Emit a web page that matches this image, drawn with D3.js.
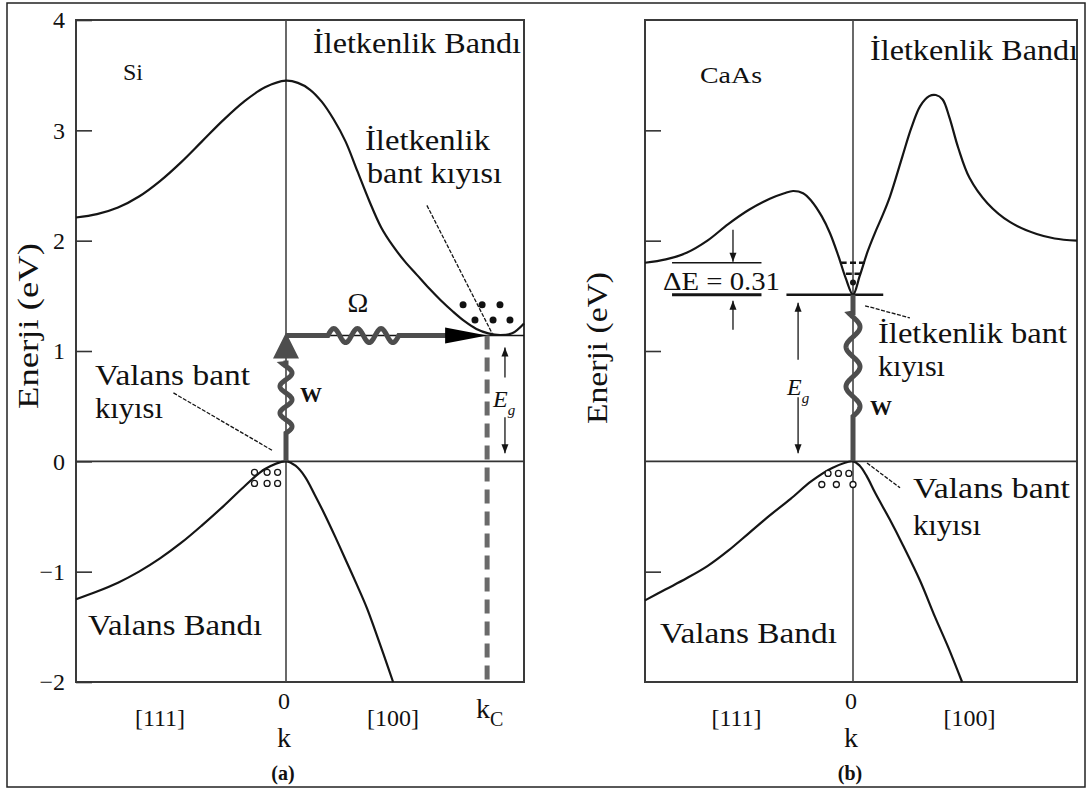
<!DOCTYPE html>
<html>
<head>
<meta charset="utf-8">
<script src="https://cdn.jsdelivr.net/npm/d3@7"></script>
<style>
  body { margin: 0; background: #fff; }
  svg text { font-family: "Liberation Serif", "Times New Roman", "DejaVu Serif", serif; fill: #111; }
</style>
</head>
<body>
<div id="chart"></div>
<script>
// Energy axis (eV)
const energyTicks = [-2, -1, 0, 1, 2, 3, 4];
const innerTicksB = [-1, 1, 2, 3];
const dirLabels = ["[111]", "[100]"];

// Si bands, [k, E] with k = -1 at L ([111]), 0 at Gamma, 1 at X ([100])
const siConduction = [[-1, 2.21], [-0.9, 2.24], [-0.8, 2.30], [-0.7, 2.40], [-0.6, 2.54],
  [-0.5, 2.71], [-0.4, 2.90], [-0.3, 3.09], [-0.2, 3.26], [-0.1, 3.39], [0, 3.45],
  [0.05, 3.43], [0.1, 3.37], [0.15, 3.26], [0.2, 3.10], [0.25, 2.90], [0.3, 2.63],
  [0.35, 2.36], [0.4, 2.12], [0.45, 1.95], [0.5, 1.81], [0.55, 1.69], [0.6, 1.57],
  [0.65, 1.46], [0.7, 1.36], [0.75, 1.27], [0.8, 1.20], [0.85, 1.16], [0.9, 1.145],
  [0.95, 1.16], [1.0, 1.25]];
const siValence = [[-1, -1.25], [-0.9, -1.18], [-0.8, -1.10], [-0.7, -1.0], [-0.6, -0.88],
  [-0.5, -0.74], [-0.4, -0.58], [-0.3, -0.41], [-0.2, -0.23], [-0.1, -0.07], [0, 0],
  [0.04, -0.04], [0.08, -0.14], [0.12, -0.30], [0.16, -0.47], [0.206, -0.68], [0.25, -0.89],
  [0.298, -1.12], [0.34, -1.33], [0.374, -1.53], [0.41, -1.75], [0.45, -2.0]];
const siGap = 1.14, siKc = 0.845;
const siElectrons = [[0.744, 1.42], [0.824, 1.42], [0.899, 1.42], [0.794, 1.28], [0.87, 1.28], [0.941, 1.28]];
const siHoles = [[-0.15, -0.1], [-0.09, -0.1], [-0.04, -0.1], [-0.15, -0.2], [-0.09, -0.2], [-0.04, -0.2]];

// GaAs bands
const gaasConduction = [[-1, 1.80], [-0.9, 1.83], [-0.8, 1.89], [-0.7, 2.00], [-0.6, 2.15],
  [-0.5, 2.28], [-0.4, 2.38], [-0.33, 2.43], [-0.288, 2.45], [-0.24, 2.43], [-0.2, 2.36],
  [-0.15, 2.22], [-0.111, 2.07], [-0.07, 1.86], [-0.035, 1.66], [0, 1.51], [0.03, 1.68],
  [0.065, 1.90], [0.10, 2.08], [0.13, 2.22], [0.165, 2.40], [0.22, 2.76], [0.26, 3.02],
  [0.30, 3.22], [0.34, 3.31], [0.37, 3.32], [0.40, 3.28], [0.43, 3.12], [0.47, 2.84],
  [0.52, 2.57], [0.6, 2.34], [0.7, 2.17], [0.82, 2.06], [0.9, 2.02], [1.0, 2.00]];
const gaasValence = [[-1, -1.26], [-0.9, -1.16], [-0.8, -1.06], [-0.7, -0.95], [-0.6, -0.81],
  [-0.5, -0.65], [-0.4, -0.49], [-0.3, -0.34], [-0.2, -0.18], [-0.1, -0.06], [0, 0],
  [0.03, -0.04], [0.06, -0.13], [0.1, -0.29], [0.165, -0.53], [0.223, -0.76], [0.299, -1.08],
  [0.366, -1.41], [0.424, -1.68], [0.487, -2.0]];
const gaasGap = 1.51, gaasL = 1.80;
const gaasElectrons = [[-0.045, 1.80], [0, 1.80], [0.04, 1.80], [-0.02, 1.70], [0.02, 1.70]];
const gaasDot = [[0, 1.62]];
const gaasHoles = [[-0.12, -0.11], [-0.07, -0.11], [-0.02, -0.11], [-0.15, -0.21], [-0.08, -0.21], [0, -0.21]];

const width = 1090, height = 790;
const ink = "#151515", gray = "#4d4d4d";
const serif = "Liberation Serif, Times New Roman, DejaVu Serif, serif";

const svg = d3.select("#chart").append("svg")
  .attr("width", width).attr("height", height)
  .attr("viewBox", [0, 0, width, height])
  .attr("font-family", serif);

svg.append("rect")
  .attr("x", 7).attr("y", 3).attr("width", 1078).attr("height", 784)
  .attr("fill", "none").attr("stroke", "#222").attr("stroke-width", 1.5);

const y = d3.scaleLinear().domain([-2, 4]).range([682, 20]);
const xA = d3.scaleLinear().domain([-1, 0, 1]).range([76, 286, 524]);
const xB = d3.scaleLinear().domain([-1, 0, 1]).range([645, 853, 1077]);

// wavy line between two pixel points, waves between fractions f0..f1
function wavy(p0, p1, f0, f1, n, amp) {
  const dx = p1[0] - p0[0], dy = p1[1] - p0[1], L = Math.hypot(dx, dy);
  const nx = -dy / L, ny = dx / L;
  const pts = [];
  for (let i = 0; i <= 300; i++) {
    const t = i / 300;
    let off = 0;
    if (t > f0 && t < f1) off = amp * Math.sin((t - f0) / (f1 - f0) * n * 2 * Math.PI);
    pts.push([p0[0] + dx * t + nx * off, p0[1] + dy * t + ny * off]);
  }
  return d3.line()(pts);
}

function head(g, tip, dir, len, half, fill) {
  const bx = tip[0] - dir[0] * len, by = tip[1] - dir[1] * len;
  const nx = -dir[1], ny = dir[0];
  g.append("path")
    .attr("d", `M${tip[0]},${tip[1]}L${bx + nx * half},${by + ny * half}L${bx - nx * half},${by - ny * half}Z`)
    .attr("fill", fill);
}

function thinArrow(g, x0, y0, x1, y1) {
  g.append("line").attr("x1", x0).attr("y1", y0).attr("x2", x1).attr("y2", y1)
    .attr("stroke", ink).attr("stroke-width", 1.3);
  const L = Math.hypot(x1 - x0, y1 - y0);
  head(g, [x1, y1], [(x1 - x0) / L, (y1 - y0) / L], 9, 3.5, ink);
}

function label(g, txt, x, yy, size, opts = {}) {
  const t = g.append("text").attr("x", x).attr("y", yy)
    .attr("font-family", serif).attr("font-size", size).text(txt);
  if (opts.anchor) t.attr("text-anchor", opts.anchor);
  if (opts.len) t.attr("textLength", opts.len).attr("lengthAdjust", "spacingAndGlyphs");
  if (opts.bold) t.attr("font-weight", "bold");
  if (opts.italic) t.attr("font-style", "italic");
  return t;
}

function drawPanel(x, cond, val, opts) {
  const g = svg.append("g");
  const line = d3.line().x(d => x(d[0])).y(d => y(d[1])).curve(d3.curveCatmullRom.alpha(0.5));

  // frame
  g.append("rect")
    .attr("x", x(-1)).attr("y", y(4))
    .attr("width", x(1) - x(-1)).attr("height", y(-2) - y(4))
    .attr("fill", "none").attr("stroke", "#3a3a3a").attr("stroke-width", 2);

  // energy axis ticks
  const axis = d3.axisLeft(y).tickValues(opts.ticks).tickSize(-16).tickPadding(11)
    .tickFormat(opts.labels ? (d => d < 0 ? "\u2212" + Math.abs(d) : d) : "");
  const ax = g.append("g").attr("transform", `translate(${x(-1)},0)`).call(axis);
  ax.attr("font-family", serif);
  ax.select(".domain").remove();
  ax.selectAll("line").attr("stroke", "#333").attr("stroke-width", 1.6);
  ax.selectAll("text").attr("font-size", 24).attr("fill", ink);

  // k = 0 and E = 0 lines
  g.append("line").attr("x1", x(0)).attr("x2", x(0)).attr("y1", y(4)).attr("y2", y(-2))
    .attr("stroke", "#444").attr("stroke-width", 1.6);
  g.append("line").attr("x1", x(-1)).attr("x2", x(1)).attr("y1", y(0)).attr("y2", y(0))
    .attr("stroke", "#333").attr("stroke-width", 1.6);

  // bands
  g.append("path").datum(cond).attr("d", line)
    .attr("fill", "none").attr("stroke", ink).attr("stroke-width", 2.2);
  g.append("path").datum(val).attr("d", line)
    .attr("fill", "none").attr("stroke", ink).attr("stroke-width", 2.2);

  // holes
  g.selectAll(".hole").data(opts.holes).join("circle")
    .attr("cx", d => x(d[0])).attr("cy", d => y(d[1])).attr("r", 3)
    .attr("fill", "#fff").attr("stroke", ink).attr("stroke-width", 1.3);

  // x labels
  label(g, dirLabels[0], x(opts.dirK[0]), 726, 24, { anchor: "middle" });
  label(g, dirLabels[1], x(opts.dirK[1]), 726, 24, { anchor: "middle" });
  label(g, "0", x(0) - 2, 709, 24, { anchor: "middle" });
  label(g, "k", x(0) - 2, 747, 28, { anchor: "middle" });
  label(g, opts.tag, x(0) - 3, 780, 20, { anchor: "middle", bold: true });
  return g;
}

// ---------- panel (a) Si ----------
const gA = drawPanel(xA, siConduction, siValence, {
  ticks: energyTicks, labels: true, holes: siHoles, dirK: [-0.6, 0.45], tag: "(a)"
});

// gap level line
gA.append("line").attr("x1", xA(0)).attr("x2", xA(1)).attr("y1", y(siGap)).attr("y2", y(siGap))
  .attr("stroke", ink).attr("stroke-width", 1.5);
// dashed kc line
gA.append("line").attr("x1", xA(siKc)).attr("x2", xA(siKc)).attr("y1", y(siGap)).attr("y2", y(-2))
  .attr("stroke", "#6a6a6a").attr("stroke-width", 5).attr("stroke-dasharray", "14,8");
// photon W (vertical wavy arrow)
const wBase = y(siGap) + 25;
gA.append("path")
  .attr("d", wavy([xA(0), y(0)], [xA(0), wBase], 0.28, 0.97, 2.6, 6))
  .attr("fill", "none").attr("stroke", gray).attr("stroke-width", 5);
head(gA, [xA(0), y(siGap) - 3], [0, -1], 26, 13, gray);
// phonon Omega (horizontal wavy arrow)
const oEnd = xA(siKc) - 40;
gA.append("path")
  .attr("d", wavy([xA(0), y(siGap)], [oEnd, y(siGap)], 0.26, 0.70, 3, -7))
  .attr("fill", "none").attr("stroke", gray).attr("stroke-width", 5);
head(gA, [xA(siKc), y(siGap)], [1, 0], 42, 8, "#000");
// electrons
gA.selectAll(".el").data(siElectrons).join("circle")
  .attr("cx", d => xA(d[0])).attr("cy", d => y(d[1])).attr("r", 3.5).attr("fill", "#111");
// Eg arrows
const egXA = xA(0.92);
thinArrow(gA, egXA, y(siGap) + 42, egXA, y(siGap) + 12);
thinArrow(gA, egXA, y(0) - 44, egXA, y(0) - 8);
const egA = label(gA, "E", egXA - 12, 407, 24, { italic: true });
egA.append("tspan").attr("dy", 8).attr("font-size", 15).text("g");
// pointers
gA.append("line").attr("x1", xA(0.592)).attr("y1", y(2.32)).attr("x2", xA(0.866)).attr("y2", y(1.16))
  .attr("stroke", ink).attr("stroke-width", 1.3).attr("stroke-dasharray", "4,1.5");
gA.append("line").attr("x1", xA(-0.536)).attr("y1", y(0.62)).attr("x2", xA(-0.066)).attr("y2", y(0.10))
  .attr("stroke", ink).attr("stroke-width", 1.3).attr("stroke-dasharray", "4,1.5");

label(gA, "Si", 123, 80, 24);
label(gA, "İletkenlik Bandı", 313, 53, 30, { len: 208 });
label(gA, "İletkenlik", 365, 150, 29, { len: 125 });
label(gA, "bant kıyısı", 367, 183, 29, { len: 135 });
label(gA, "Valans bant", 95, 385, 29, { len: 155 });
label(gA, "kıyısı", 95, 418, 29, { len: 68 });
label(gA, "W", 300, 402, 22, { bold: true });
label(gA, "Ω", 358, 312, 28, { anchor: "middle" });
label(gA, "Valans Bandı", 88, 635, 29, { len: 174 });
const kc = label(gA, "k", 476, 718, 28);
kc.append("tspan").attr("dy", 8).attr("font-size", 20).text("C");
svg.append("text").attr("transform", "translate(38,326) rotate(-90)")
  .attr("font-family", serif)
  .attr("text-anchor", "middle").attr("font-size", 30)
  .attr("textLength", 166).attr("lengthAdjust", "spacingAndGlyphs").text("Enerji (eV)");

// ---------- panel (b) GaAs ----------
const gB = drawPanel(xB, gaasConduction, gaasValence, {
  ticks: innerTicksB, labels: false, holes: gaasHoles, dirK: [-0.56, 0.52], tag: "(b)"
});

// L valley level and gap level
gB.append("line").attr("x1", xB(-0.87)).attr("x2", xB(-0.44)).attr("y1", y(gaasL)).attr("y2", y(gaasL))
  .attr("stroke", ink).attr("stroke-width", 1.5);
gB.append("line").attr("x1", xB(-0.87)).attr("x2", xB(-0.44)).attr("y1", y(gaasGap)).attr("y2", y(gaasGap))
  .attr("stroke", ink).attr("stroke-width", 3);
gB.append("line").attr("x1", xB(-0.32)).attr("x2", xB(0.135)).attr("y1", y(gaasGap)).attr("y2", y(gaasGap))
  .attr("stroke", ink).attr("stroke-width", 2.5);
// delta E arrows
const dEx = xB(-0.577);
thinArrow(gB, dEx, y(gaasL) - 33, dEx, y(gaasL) - 1);
thinArrow(gB, dEx, y(gaasGap) + 35, dEx, y(gaasGap) + 6);
label(gB, "ΔE = 0.31", 663, 290, 26, { len: 117 });
// Eg arrows
const egXB = xB(-0.264);
thinArrow(gB, egXB, y(gaasGap) + 65, egXB, y(gaasGap) + 8);
thinArrow(gB, egXB, y(0) - 64, egXB, y(0) - 8);
const egB = label(gB, "E", egXB - 11, 395, 24, { italic: true });
egB.append("tspan").attr("dy", 8).attr("font-size", 15).text("g");
// photon W (vertical wavy line)
gB.append("path")
  .attr("d", wavy([xB(0), y(0)], [xB(0), y(gaasGap)], 0.27, 0.89, 2.6, 7))
  .attr("fill", "none").attr("stroke", gray).attr("stroke-width", 5);
// electrons in Gamma valley
gB.selectAll(".el").data(gaasElectrons).join("line")
  .attr("x1", d => xB(d[0]) - 3).attr("x2", d => xB(d[0]) + 3)
  .attr("y1", d => y(d[1])).attr("y2", d => y(d[1]))
  .attr("stroke", ink).attr("stroke-width", 2.5);
gB.selectAll(".dot").data(gaasDot).join("circle")
  .attr("cx", d => xB(d[0])).attr("cy", d => y(d[1])).attr("r", 3).attr("fill", ink);
// pointers
gB.append("line").attr("x1", xB(0.054)).attr("y1", y(1.41)).attr("x2", xB(0.254)).attr("y2", y(1.30))
  .attr("stroke", ink).attr("stroke-width", 1.3).attr("stroke-dasharray", "4,1.5");
gB.append("line").attr("x1", xB(0.0625)).attr("y1", y(-0.015)).attr("x2", xB(0.21)).attr("y2", y(-0.24))
  .attr("stroke", ink).attr("stroke-width", 1.3).attr("stroke-dasharray", "4,1.5");

label(gB, "CaAs", 700, 83, 24, { len: 62 });
label(gB, "İletkenlik Bandı", 870, 60, 30, { len: 208 });
label(gB, "İletkenlik bant", 878, 343, 29, { len: 189 });
label(gB, "kıyısı", 878, 376, 29, { len: 67 });
label(gB, "W", 870, 415, 22, { bold: true });
label(gB, "Valans bant", 913, 498, 29, { len: 157 });
label(gB, "kıyısı", 913, 535, 29, { len: 68 });
label(gB, "Valans Bandı", 660, 643, 29, { len: 177 });
svg.append("text").attr("transform", "translate(607,348) rotate(-90)")
  .attr("font-family", serif)
  .attr("text-anchor", "middle").attr("font-size", 30)
  .attr("textLength", 152).attr("lengthAdjust", "spacingAndGlyphs").text("Enerji (eV)");
</script>
</body>
</html>
